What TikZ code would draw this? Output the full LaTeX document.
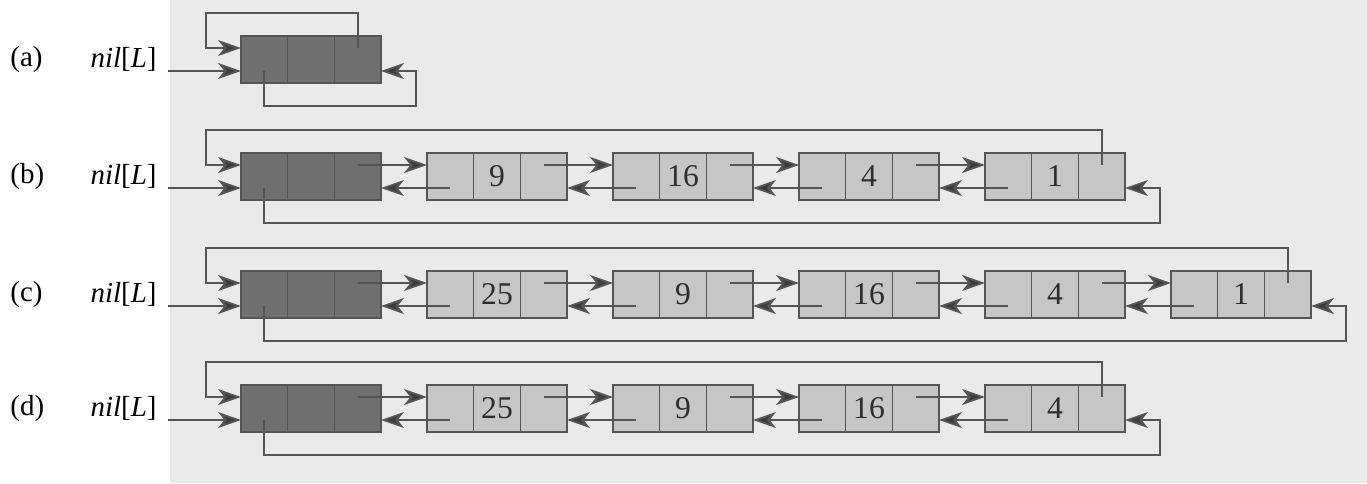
\documentclass[tikz,border=0pt]{standalone}
\usepackage{fontspec}
\setmainfont{Liberation Serif}
\usetikzlibrary{arrows.meta}
\definecolor{wire}{RGB}{85,85,85}
\definecolor{tipgray}{RGB}{60,60,60}
\definecolor{headgray}{RGB}{112,112,112}
\definecolor{elemgray}{RGB}{198,198,198}
\definecolor{paper}{RGB}{234,234,234}
\definecolor{ink}{RGB}{45,45,45}
\tikzset{
  >={Stealth[length=4.6mm,width=3.2mm,inset=1.3mm,fill=tipgray]},
  elemfill/.store in=\elemfill,
  elemfill=elemgray,
  cell/.style={draw=wire,fill=\elemfill,line width=0.8pt,minimum width=9.33mm,
    minimum height=9.4mm,inner sep=0pt,outer sep=0pt,
    font=\fontsize{18}{20}\selectfont,text=ink},
  ptr/.style={->,draw=wire,line width=1.1pt},
  tag/.style={font=\fontsize{16.5}{19}\selectfont,inner sep=0pt,text=black},
  nilbox/.style={tag,anchor=east,inner xsep=2.2mm},
  % one list element: prev | key | next
  pics/elem/.style={code={
    \node[cell] (-p) at (0,0) {};
    \node[cell] (-k) at (0.933,0) {#1};
    \node[cell] (-n) at (1.867,0) {};
    \coordinate (-nxt) at (1.867,0.23);
    \coordinate (-prv) at (0,-0.23);
    \coordinate (-inn) at (-0.467,0.23);
    \coordinate (-inp) at (-0.467,-0.23);
    \coordinate (-out) at (2.333,-0.23);
  }},
}

\begin{document}
\begin{tikzpicture}
  \useasboundingbox (0,0) rectangle (27.34,-9.66);
  \fill[paper] (3.4,0) rectangle (27.34,-9.66);

  % (a) empty list
  \node[tag,anchor=west] (alab) at (0.2,-1.19) {(a)};
  \node[nilbox] (anil) at (3.36,-1.19) {\textit{nil}[\textit{L}]};
  \pic[elemfill=headgray] (a0) at (5.287,-1.19) {elem};
  \draw[ptr] (anil.east |- a0-inp) -- (a0-inp);
  \draw[ptr] (a0-nxt) -- ++(0,0.70) -| ([xshift=-7mm]a0-inn) -- (a0-inn);
  \draw[ptr] (a0-prv) -- ++(0,-0.70) -| ([xshift=7mm]a0-out) -- (a0-out);

  % (b)
  \node[tag,anchor=west] (blab) at (0.2,-3.53) {(b)};
  \node[nilbox] (bnil) at (3.36,-3.53) {\textit{nil}[\textit{L}]};
  \pic[elemfill=headgray] (b0) at (5.287,-3.53) {elem};
  \foreach \k [count=\i] in {9,16,4,1}
    \pic (b\i) at (5.287+3.72*\i,-3.53) {elem=\k};
  \draw[ptr] (bnil.east |- b0-inp) -- (b0-inp);
  \foreach \i [remember=\i as \j (initially 0)] in {1,...,4} {
    \draw[ptr] (b\j-nxt) -- (b\i-inn);
    \draw[ptr] (b\i-prv) -- (b\j-out);
  }
  \draw[ptr] (b4-nxt) -- ++(0,0.70) -| ([xshift=-7mm]b0-inn) -- (b0-inn);
  \draw[ptr] (b0-prv) -- ++(0,-0.70) -| ([xshift=7mm]b4-out) -- (b4-out);

  % (c)
  \node[tag,anchor=west] (clab) at (0.2,-5.89) {(c)};
  \node[nilbox] (cnil) at (3.36,-5.89) {\textit{nil}[\textit{L}]};
  \pic[elemfill=headgray] (c0) at (5.287,-5.89) {elem};
  \foreach \k [count=\i] in {25,9,16,4,1}
    \pic (c\i) at (5.287+3.72*\i,-5.89) {elem=\k};
  \draw[ptr] (cnil.east |- c0-inp) -- (c0-inp);
  \foreach \i [remember=\i as \j (initially 0)] in {1,...,5} {
    \draw[ptr] (c\j-nxt) -- (c\i-inn);
    \draw[ptr] (c\i-prv) -- (c\j-out);
  }
  \draw[ptr] (c5-nxt) -- ++(0,0.70) -| ([xshift=-7mm]c0-inn) -- (c0-inn);
  \draw[ptr] (c0-prv) -- ++(0,-0.70) -| ([xshift=7mm]c5-out) -- (c5-out);

  % (d)
  \node[tag,anchor=west] (dlab) at (0.2,-8.17) {(d)};
  \node[nilbox] (dnil) at (3.36,-8.17) {\textit{nil}[\textit{L}]};
  \pic[elemfill=headgray] (d0) at (5.287,-8.17) {elem};
  \foreach \k [count=\i] in {25,9,16,4}
    \pic (d\i) at (5.287+3.72*\i,-8.17) {elem=\k};
  \draw[ptr] (dnil.east |- d0-inp) -- (d0-inp);
  \foreach \i [remember=\i as \j (initially 0)] in {1,...,4} {
    \draw[ptr] (d\j-nxt) -- (d\i-inn);
    \draw[ptr] (d\i-prv) -- (d\j-out);
  }
  \draw[ptr] (d4-nxt) -- ++(0,0.70) -| ([xshift=-7mm]d0-inn) -- (d0-inn);
  \draw[ptr] (d0-prv) -- ++(0,-0.70) -| ([xshift=7mm]d4-out) -- (d4-out);
\end{tikzpicture}
\end{document}
